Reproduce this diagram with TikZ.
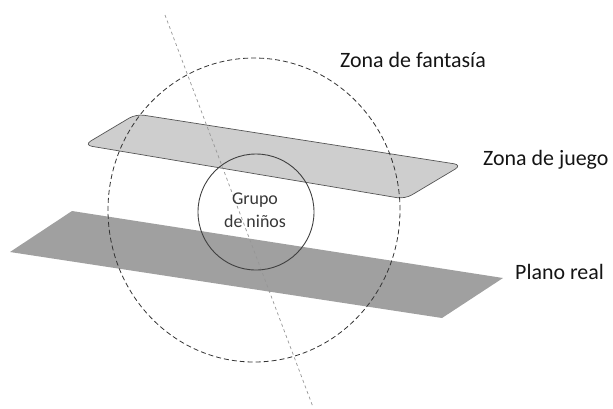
\documentclass[tikz,border=0pt]{standalone}
\usepackage{fontspec}
\setmainfont{Carlito}
\usetikzlibrary{shapes.geometric}
\definecolor{planeup}{RGB}{206,206,206}
\definecolor{planelow}{RGB}{160,160,160}
\definecolor{edgegray}{RGB}{85,85,85}
\definecolor{axisgray}{RGB}{150,150,150}
\definecolor{textgray}{RGB}{20,20,20}
\begin{document}
\begin{tikzpicture}[x=1bp,y=-1bp,
  label/.style={anchor=base west,inner sep=0pt,text=textgray,font=\fontsize{22}{24}\selectfont},
  inner/.style={align=center,inner sep=0pt,text=textgray!85,font=\fontsize{18}{23}\selectfont},
  fantasyring/.style={draw=black!80,line width=0.8bp,dash pattern=on 5bp off 3bp},
  groupring/.style={draw=black!75,line width=0.9bp},
  axisline/.style={draw=axisgray,line width=0.7bp,dash pattern=on 3bp off 3bp}]
\useasboundingbox (0,0) rectangle (613,408);
% lower plane (real)
\fill[planelow] (72,211) -- (503,278) -- (442,318) -- (10,252) -- cycle;
% upper plane (play zone)
\filldraw[fill=planeup,draw=edgegray,line width=0.7bp,rounded corners=8bp]
  (136,114) -- (462,165) -- (405,199) -- (84,145) -- cycle;
% axis line
\coordinate (atop) at (165,15);
\coordinate (abot) at (313,407);
\draw[axisline] (atop) -- (abot);
% fantasy zone ellipse
\node[fantasyring,ellipse,minimum width=292bp,minimum height=304bp,inner sep=0pt] (fant) at (254,210) {};
% group circle
\node[groupring,circle,minimum size=116bp,inner sep=0pt] (grp) at (256,212) {};
\node[inner] (grptext) at (255,210) {Grupo\\de niños};
% labels
\node[label] (lfant) at (340,67) {Zona de fantasía};
\node[label] (ljuego) at (483,165) {Zona de juego};
\node[label] (lplano) at (515,279) {Plano real};
\end{tikzpicture}
\end{document}
